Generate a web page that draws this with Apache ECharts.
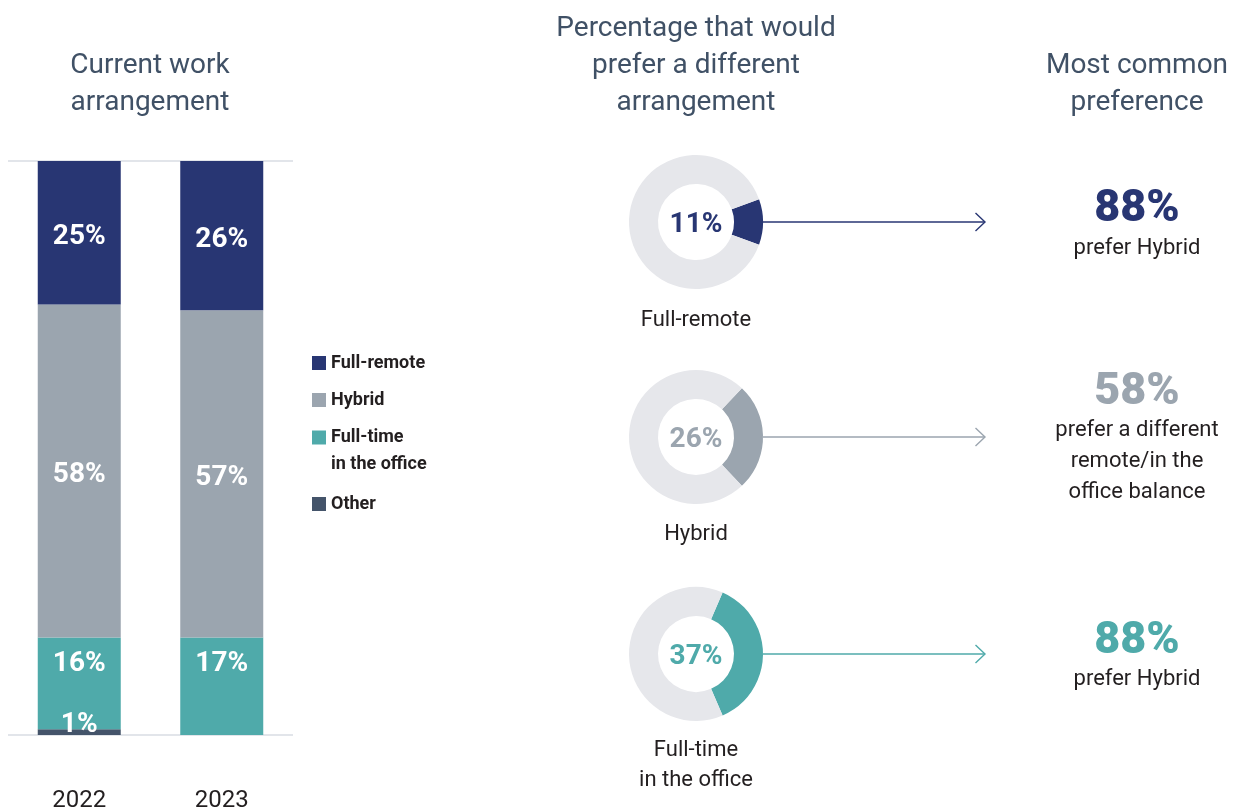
<!DOCTYPE html>
<html>
<head>
<meta charset="utf-8">
<script src="https://cdn.jsdelivr.net/npm/echarts@6/dist/echarts.min.js"></script>
<style>
  html, body { margin: 0; padding: 0; background: #ffffff; }
  #chart { width: 1237px; height: 809px; }
</style>
</head>
<body>
<div id="chart"></div>
<script>
// Current work arrangement, share of respondents (%)
const years = ['2022', '2023'];
const fullRemote = [25, 26];
const hybrid = [58, 57];
const fullTimeOffice = [16, 17];
const other = [1, 0];

// Share in each group that would prefer a different arrangement (%)
const groups = ['Full-remote', 'Hybrid', 'Full-time\nin the office'];
const preferDifferent = [11, 26, 37];

// Most common preference per group
const topPreferenceValue = ['88%', '58%', '88%'];
const topPreferenceText = ['prefer Hybrid', 'prefer a different\nremote/in the\noffice balance', 'prefer Hybrid'];

const NAVY = '#283673';
const GRAY = '#9ba5af';
const TEAL = '#4faaaa';
const SLATE = '#44546a';
const RING = '#e6e7eb';
const INK = '#231f20';
const TITLE = '#405166';
const FONT = 'Roboto, "Noto Sans", sans-serif';

const groupColors = [NAVY, GRAY, TEAL];
const donutCenters = [[696, 222], [696, 437], [696, 654]];
const groupLabelY = [320, 534, 765];
const prefValueY = [210, 393, 642];
const prefTextY = [248, 461, 679];

const chart = echarts.init(document.getElementById('chart'), null, { renderer: 'canvas' });

const barLabel = {
  show: true,
  color: '#ffffff',
  fontFamily: FONT,
  fontWeight: 'bold',
  fontSize: 28,
  offset: [0, 4],
  formatter: p => (p.value > 0 ? p.value + '%' : '')
};

const legendBase = {
  orient: 'vertical',
  left: 312,
  padding: 0,
  itemWidth: 14,
  itemHeight: 14,
  icon: 'rect',
  selectedMode: false,
  textStyle: { fontFamily: FONT, fontWeight: 'bold', fontSize: 18, color: INK, lineHeight: 20 }
};

const series = [
  {
    name: 'Other', type: 'bar', stack: 'total', barWidth: 83,
    itemStyle: { color: SLATE },
    label: Object.assign({}, barLabel, { position: 'top', distance: -6 }),
    data: other
  },
  {
    name: 'Full-time in the office', type: 'bar', stack: 'total', barWidth: 83,
    itemStyle: { color: TEAL },
    label: Object.assign({}, barLabel, { position: 'insideTop', distance: 9 }),
    data: fullTimeOffice
  },
  {
    name: 'Hybrid', type: 'bar', stack: 'total', barWidth: 83,
    itemStyle: { color: GRAY },
    label: Object.assign({}, barLabel, { position: 'inside' }),
    data: hybrid
  },
  {
    name: 'Full-remote', type: 'bar', stack: 'total', barWidth: 83,
    itemStyle: { color: NAVY },
    label: Object.assign({}, barLabel, { position: 'inside' }),
    data: fullRemote
  }
];

// One donut per current arrangement, with the highlighted share centred on 3 o'clock
preferDifferent.forEach((v, i) => {
  series.push({
    type: 'pie',
    silent: true,
    center: donutCenters[i],
    radius: [38, 67],
    startAngle: v * 3.6 / 2,
    clockwise: true,
    avoidLabelOverlap: false,
    labelLine: { show: false },
    emphasis: { disabled: true },
    data: [
      {
        value: v,
        name: groups[i],
        itemStyle: { color: groupColors[i] },
        label: {
          show: true, position: 'center', formatter: '{c}%',
          fontFamily: FONT, fontWeight: 'bold', fontSize: 28, color: groupColors[i],
          offset: [0, 3]
        }
      },
      { value: 100 - v, name: 'rest', itemStyle: { color: RING }, label: { show: false } }
    ]
  });
});

const graphics = [];
// Column headings
[
  { x: 150, y: 84.5, text: 'Current work\narrangement' },
  { x: 696, y: 66, text: 'Percentage that would\nprefer a different\narrangement' },
  { x: 1137, y: 84.5, text: 'Most common\npreference' }
].forEach(h => {
  graphics.push({
    type: 'text', x: h.x, y: h.y, silent: true,
    style: {
      text: h.text, align: 'center', verticalAlign: 'middle',
      font: '400 28px ' + FONT, lineHeight: 37, fill: TITLE
    }
  });
});

groups.forEach((g, i) => {
  const [cx, cy] = donutCenters[i];
  const col = groupColors[i];
  // group name under the donut
  graphics.push({
    type: 'text', x: cx, y: groupLabelY[i], silent: true,
    style: { text: g, align: 'center', verticalAlign: 'middle', font: '400 22px ' + FONT, lineHeight: 30, fill: INK }
  });
  // connector arrow to the preference summary
  graphics.push({
    type: 'polyline', silent: true,
    shape: { points: [[cx + 67, cy], [985, cy]] },
    style: { stroke: col, lineWidth: 1.4, fill: null }
  });
  graphics.push({
    type: 'polyline', silent: true,
    shape: { points: [[975.5, cy - 9], [985, cy], [975.5, cy + 9]] },
    style: { stroke: col, lineWidth: 1.4, fill: null }
  });
  // summary value and description
  graphics.push({
    type: 'text', x: 1137, y: prefValueY[i], silent: true,
    style: { text: topPreferenceValue[i], align: 'center', verticalAlign: 'middle', font: '900 45px ' + FONT, fill: col }
  });
  graphics.push({
    type: 'text', x: 1137, y: prefTextY[i], silent: true,
    style: { text: topPreferenceText[i], align: 'center', verticalAlign: 'middle', font: '400 22px ' + FONT, lineHeight: 31, fill: INK }
  });
});

const option = {
  backgroundColor: '#ffffff',
  animation: false,
  grid: { left: 8, width: 285, top: 161, height: 574, containLabel: false, outerBoundsMode: 'none' },
  xAxis: {
    type: 'category',
    data: years,
    axisLine: { show: false },
    axisTick: { show: false },
    axisLabel: { margin: 54, fontFamily: FONT, fontSize: 24, color: INK }
  },
  yAxis: {
    type: 'value',
    min: 0, max: 100, interval: 100,
    axisLabel: { show: false },
    axisLine: { show: false },
    axisTick: { show: false },
    splitLine: { show: true, lineStyle: { color: '#d8dde3', width: 1.5 } }
  },
  legend: [
    Object.assign({}, legendBase, { top: 353, data: ['Full-remote'] }),
    Object.assign({}, legendBase, { top: 390, data: ['Hybrid'] }),
    Object.assign({}, legendBase, {
      top: 397, data: ['Full-time in the office'],
      // blank leading line keeps the swatch level with the first text line
      formatter: n => '\n' + n.replace(' in ', '\nin '),
      textStyle: Object.assign({}, legendBase.textStyle, { lineHeight: 27 })
    }),
    Object.assign({}, legendBase, { top: 494, data: ['Other'] })
  ],
  series: series,
  graphic: graphics
};

chart.setOption(option);
</script>
</body>
</html>
